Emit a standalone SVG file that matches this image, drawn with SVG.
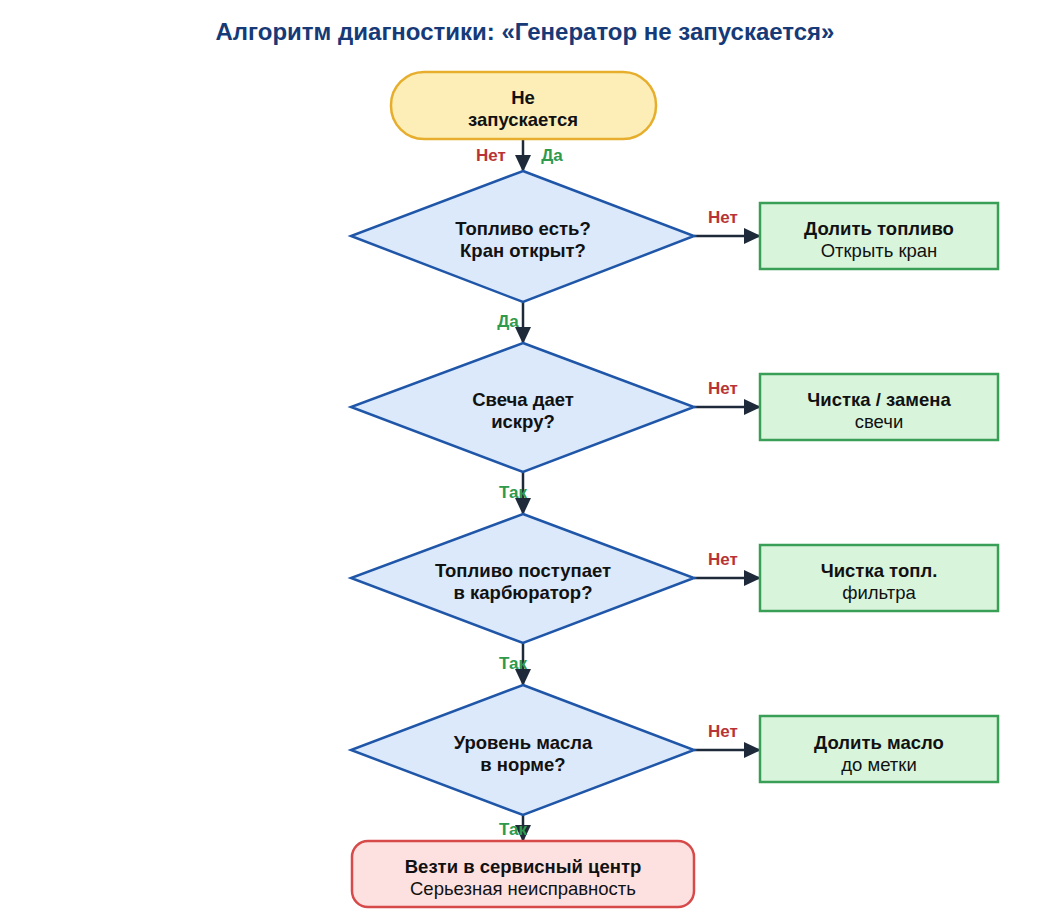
<svg xmlns="http://www.w3.org/2000/svg" width="1048" height="921" viewBox="0 0 1048 921">
<defs>
<marker id="ah" markerWidth="18" markerHeight="18" refX="16" refY="8" orient="auto" markerUnits="userSpaceOnUse">
<path d="M0,0 L17,8 L0,16 Z" fill="#1e2a3a"/>
</marker>
<style>
text{font-family:"Liberation Sans",Arial,sans-serif;text-anchor:middle}
.t{font-size:24px;font-weight:bold;fill:#163a78}
.b{font-size:18.5px;font-weight:bold;fill:#111}
.n{font-size:18.5px;fill:#111}
.dia{fill:#dbe9fb;stroke:#1f56a8;stroke-width:2.5}
.grn{fill:#d8f5dc;stroke:#3a9f56;stroke-width:2.5}
.con{stroke:#1e2a3a;stroke-width:2.5;fill:none;marker-end:url(#ah)}
.no{font-size:17px;font-weight:bold;fill:#b83434}
.yes{font-size:17px;font-weight:bold;fill:#2f9a4c}
</style>
</defs>
<rect width="1048" height="921" fill="#ffffff"/>
<text class="t" x="525" y="40">Алгоритм диагностики: «Генератор не запускается»</text>

<g id="connectors">
<line class="con" x1="523" y1="139" x2="523" y2="171"/>
<line class="con" x1="523" y1="302" x2="523" y2="343"/>
<line class="con" x1="523" y1="472" x2="523" y2="514"/>
<line class="con" x1="523" y1="643" x2="523" y2="685"/>
<line class="con" x1="523" y1="815" x2="523" y2="841"/>
<line class="con" x1="694" y1="236" x2="760" y2="236"/>
<line class="con" x1="694" y1="407" x2="760" y2="407"/>
<line class="con" x1="694" y1="578" x2="760" y2="578"/>
<line class="con" x1="694" y1="750" x2="760" y2="750"/>
<text class="no" x="491" y="161">Нет</text>
<text class="yes" x="552" y="161">Да</text>
<text class="yes" x="508" y="327">Да</text>
<text class="yes" x="513" y="498">Так</text>
<text class="yes" x="513" y="669">Так</text>
<text class="yes" x="513" y="835">Так</text>
<text class="no" x="723" y="223">Нет</text>
<text class="no" x="723" y="394">Нет</text>
<text class="no" x="723" y="565">Нет</text>
<text class="no" x="723" y="737">Нет</text>
</g>

<g id="start">
<rect x="391" y="72" width="265" height="67" rx="33" fill="#fdeeb8" stroke="#e6ae2c" stroke-width="2.5"/>
<text class="b" x="523" y="104">Не</text>
<text class="b" x="523" y="126">запускается</text>
</g>

<g id="d1">
<polygon class="dia" points="523,171 694,236 523,302 351,236"/>
<text class="b" x="523" y="235">Топливо есть?</text>
<text class="b" x="523" y="257">Кран открыт?</text>
</g>
<g id="d2">
<polygon class="dia" points="523,343 694,407 523,472 351,407"/>
<text class="b" x="523" y="406">Свеча дает</text>
<text class="b" x="523" y="428">искру?</text>
</g>
<g id="d3">
<polygon class="dia" points="523,514 694,578 523,643 351,578"/>
<text class="b" x="523" y="577">Топливо поступает</text>
<text class="b" x="523" y="599">в карбюратор?</text>
</g>
<g id="d4">
<polygon class="dia" points="523,685 694,750 523,815 351,750"/>
<text class="b" x="523" y="749">Уровень масла</text>
<text class="b" x="523" y="771">в норме?</text>
</g>

<g id="a1">
<rect class="grn" x="760" y="203" width="238" height="66"/>
<text class="b" x="879" y="235">Долить топливо</text>
<text class="n" x="879" y="257">Открыть кран</text>
</g>
<g id="a2">
<rect class="grn" x="760" y="374" width="238" height="66"/>
<text class="b" x="879" y="406">Чистка / замена</text>
<text class="n" x="879" y="428">свечи</text>
</g>
<g id="a3">
<rect class="grn" x="760" y="545" width="238" height="66"/>
<text class="b" x="879" y="577">Чистка топл.</text>
<text class="n" x="879" y="599">фильтра</text>
</g>
<g id="a4">
<rect class="grn" x="760" y="716" width="238" height="66"/>
<text class="b" x="879" y="749">Долить масло</text>
<text class="n" x="879" y="771">до метки</text>
</g>

<g id="end">
<rect x="352" y="841" width="342" height="66" rx="16" fill="#fde1e1" stroke="#d64a4a" stroke-width="2.5"/>
<text class="b" x="523" y="873">Везти в сервисный центр</text>
<text class="n" x="523" y="895">Серьезная неисправность</text>
</g>
</svg>
